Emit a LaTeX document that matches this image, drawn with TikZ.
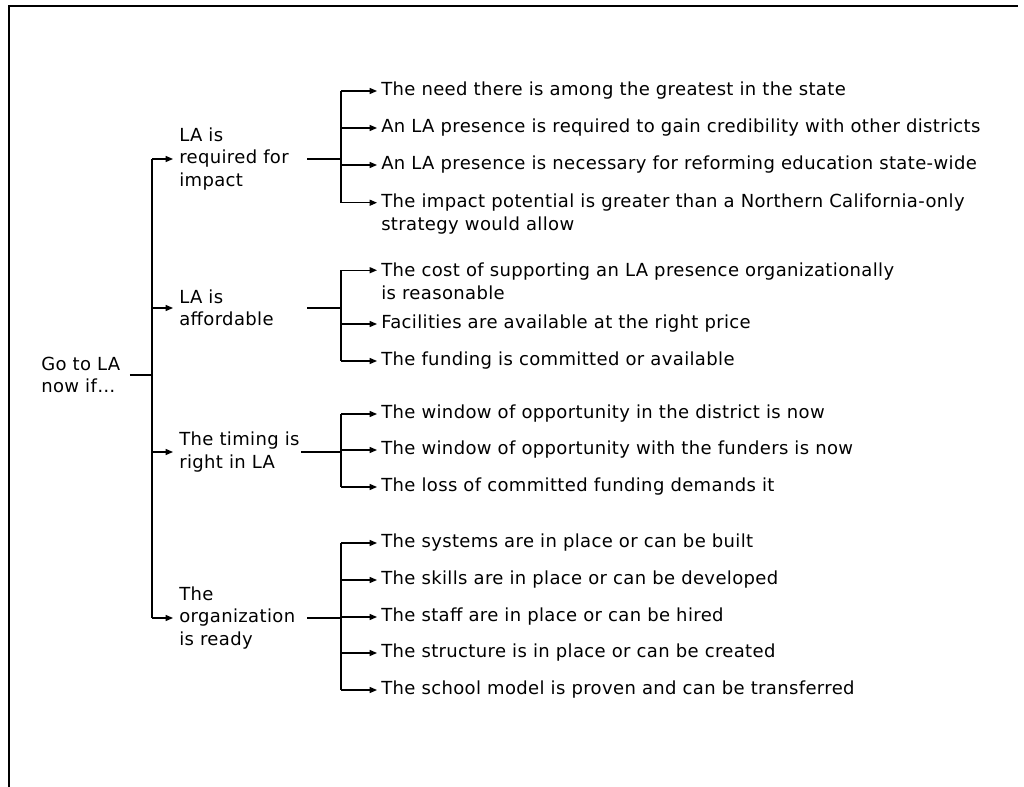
\documentclass[tikz,border=0pt]{standalone}
\usepackage{fontspec}
\setmainfont[LetterSpace=2]{DejaVu Sans}
\usetikzlibrary{arrows.meta,positioning,calc}

\begin{document}
\begin{tikzpicture}[
    x=0.75pt, y=-0.75pt,
    frame/.style={line width=1.5pt, black},
    topic/.style={anchor=west, align=left, inner xsep=4.5pt, inner ysep=0pt, font=\fontsize{13.5}{16.9}\selectfont},
    reason/.style={anchor=west, align=left, inner xsep=3pt, inner ysep=0pt, font=\fontsize{13.5}{16.9}\selectfont},
    stem/.style={line width=1.2pt},
    bus/.style={line width=1pt},
    connector/.style={-{Triangle[length=5.5pt,width=4.5pt]}, line width=0.9pt}
  ]
    \useasboundingbox (0,0) rectangle (1024,787);
    \draw[frame] (9,787) -- (9,6) -- (1018,6);

    % Columns
    \coordinate (trunk) at (152,0);
    \coordinate (out) at (307,0);
    \coordinate (outt) at (301,0);
    \coordinate (bus) at (341,0);

    % Root
    \node[topic, inner xsep=0pt] (root) at (41,375) {Go to LA\\now if\ldots};

    % Conditions
    \node[topic] (impact) at (173,159) {LA is\\required for\\impact};
    \node[topic] (afford) at (173,308) {LA is\\affordable};
    \node[topic] (timing) at (173,452) {The timing is\\right in LA};
    \node[topic] (ready) at (173,618) {The\\organization\\is ready};

    % Reasons: impact
    \node[reason] (need) at (377,91) {The need there is among the greatest in the state};
    \node[reason] (cred) at (377,128) {An LA presence is required to gain credibility with other districts};
    \node[reason] (reform) at (377,165) {An LA presence is necessary for reforming education state-wide};
    \node[reason] (potential) at (377,214) {The impact potential is greater than a Northern California-only\\strategy would allow};

    % Reasons: affordable
    \node[reason] (cost) at (377,281.5) {The cost of supporting an LA presence organizationally\\is reasonable};
    \node[reason] (facil) at (377,324) {Facilities are available at the right price};
    \node[reason] (fund) at (377,361) {The funding is committed or available};

    % Reasons: timing
    \node[reason] (district) at (377,414) {The window of opportunity in the district is now};
    \node[reason] (funders) at (377,450) {The window of opportunity with the funders is now};
    \node[reason] (loss) at (377,487) {The loss of committed funding demands it};

    % Reasons: organization
    \node[reason] (systems) at (377,543) {The systems are in place or can be built};
    \node[reason] (skills) at (377,580) {The skills are in place or can be developed};
    \node[reason] (staff) at (377,617) {The staff are in place or can be hired};
    \node[reason] (structure) at (377,653) {The structure is in place or can be created};
    \node[reason] (model) at (377,690) {The school model is proven and can be transferred};

    % first line of the two-line reasons
    \coordinate (potential-in) at ([yshift=8.45pt]potential.west);
    \coordinate (cost-in) at ([yshift=8.45pt]cost.west);

    % Connectors
    \draw[stem] ([xshift=7pt]root.east) -- (trunk |- root.east);
    \draw[bus] (trunk |- impact.west) -- (trunk |- ready.west);
    \foreach \c in {impact,afford,ready}
      \draw[stem] (out |- \c.west) -- (bus |- \c.west);
    \draw[stem] (outt |- timing.west) -- (bus |- timing.west);
    \foreach \c in {impact,afford,timing,ready}
      \draw[connector] (trunk |- \c.west) -- (\c.west);

    \draw[bus] (bus |- need.west) -- (bus |- potential-in);
    \draw[bus] (bus |- cost-in) -- (bus |- fund.west);
    \draw[bus] (bus |- district.west) -- (bus |- loss.west);
    \draw[bus] (bus |- systems.west) -- (bus |- model.west);
    \foreach \r in {need,cred,reform,potential-in,cost-in,facil,fund,district,funders,loss,systems,skills,staff,structure,model}
      \draw[connector] (bus |- \r) -- (\r);
  \end{tikzpicture}
\end{document}
